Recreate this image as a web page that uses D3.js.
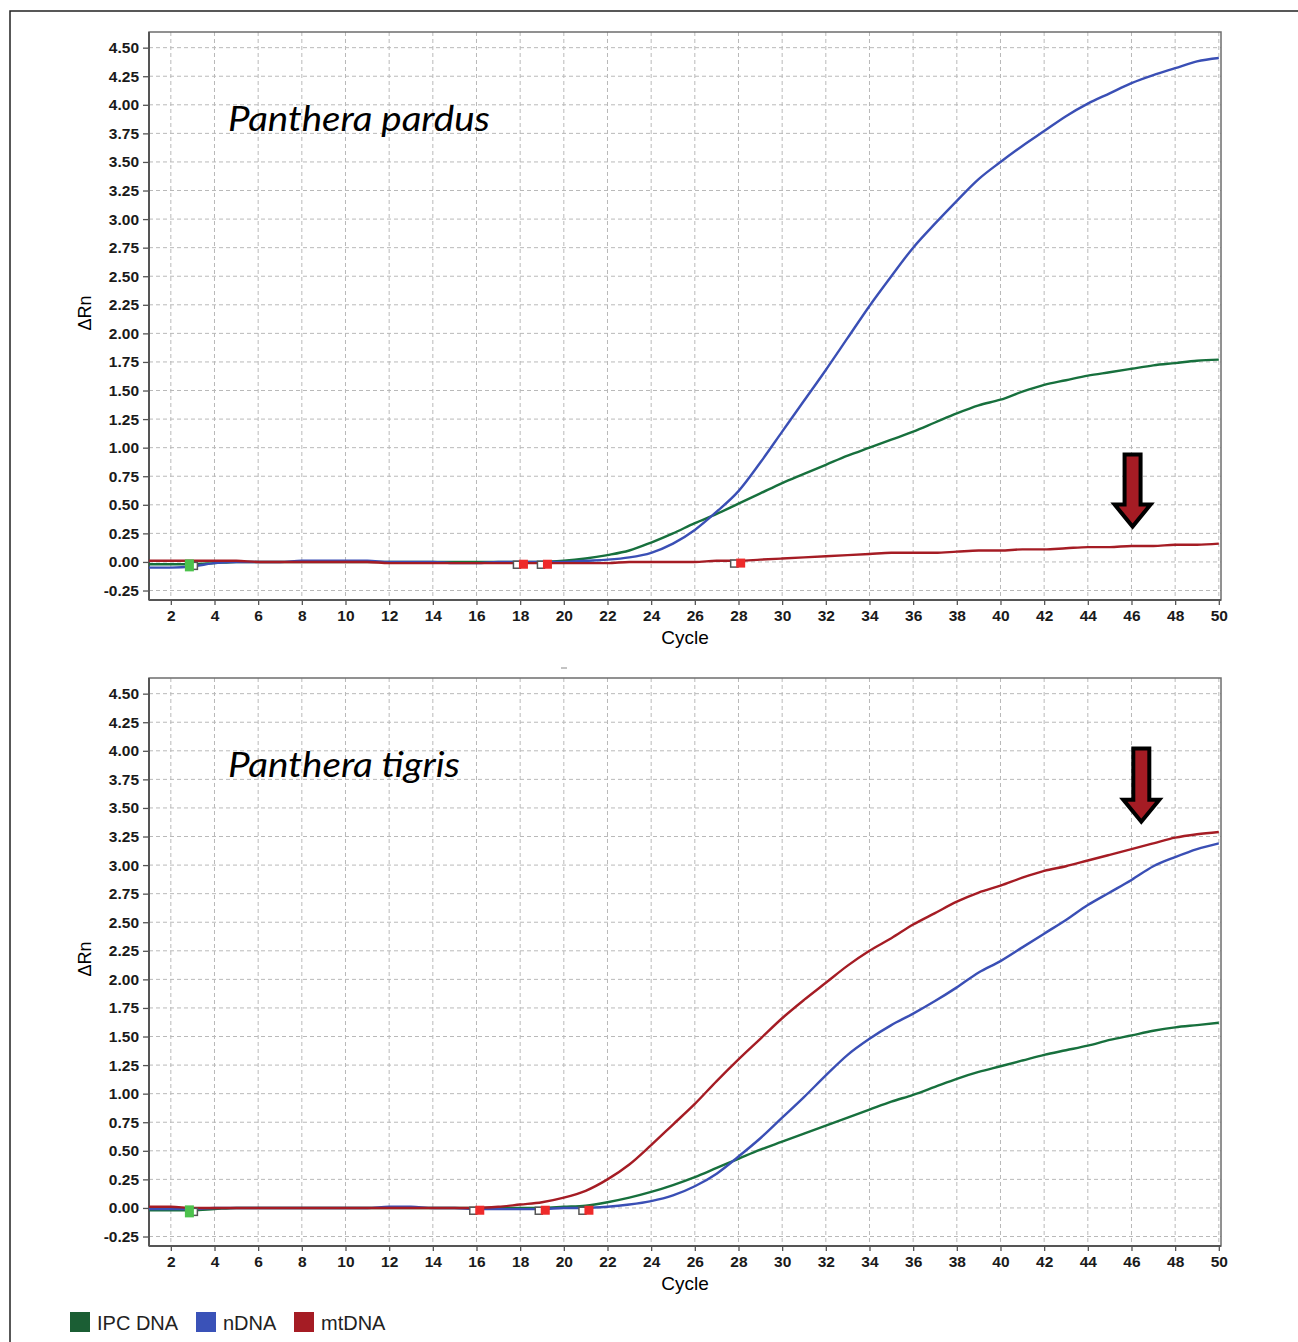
<!DOCTYPE html>
<html>
<head>
<meta charset="utf-8">
<script src="https://cdn.jsdelivr.net/npm/d3@7"></script>
<style>
  body { margin: 0; background: #fff; }
  svg { display: block; }
  .tick text { font-family: "Liberation Sans", Arial, sans-serif; font-size: 15.5px; font-weight: bold; fill: #1a1a1a; }
  .tick line { stroke: #555; stroke-width: 1.3; }
  .grid line { stroke: #b9b9b9; stroke-dasharray: 4,3; stroke-width: 1; }
</style>
</head>
<body>
<svg id="chart"></svg>
<script>
// cycles 1..50
var cycles = d3.range(1, 51);

// Panthera pardus
var pardusIPC = [-0.02,-0.02,-0.02,-0.01,0,0,0,0,0,0,
                 0,0,0,0,0,0,0,0,0,0.01,
                 0.03,0.06,0.10,0.17,0.25,0.34,0.42,0.51,0.60,0.69,
                 0.77,0.85,0.93,1.00,1.07,1.14,1.22,1.30,1.37,1.42,
                 1.49,1.55,1.59,1.63,1.66,1.69,1.72,1.74,1.76,1.77];
var pardusN   = [-0.05,-0.05,-0.04,-0.01,0,0,0,0.01,0.01,0.01,
                 0.01,0,0,0,-0.01,-0.01,0,0,0,0,
                 0.01,0.02,0.04,0.08,0.16,0.28,0.44,0.62,0.87,1.14,
                 1.41,1.68,1.96,2.24,2.50,2.75,2.96,3.16,3.35,3.50,
                 3.64,3.77,3.90,4.01,4.10,4.19,4.26,4.32,4.38,4.41];
var pardusMt  = [0.01,0.01,0.01,0.01,0.01,0,0,0,0,0,
                 0,-0.01,-0.01,-0.01,-0.01,-0.01,-0.01,-0.01,-0.01,-0.01,
                 -0.01,-0.01,0,0,0,0,0.01,0.01,0.02,0.03,
                 0.04,0.05,0.06,0.07,0.08,0.08,0.08,0.09,0.10,0.10,
                 0.11,0.11,0.12,0.13,0.13,0.14,0.14,0.15,0.15,0.16];

// Panthera tigris
var tigrisIPC = [-0.02,-0.02,-0.02,-0.01,0,0,0,0,0,0,
                 0,0,0,0,0,0,0,0,0,0.01,
                 0.02,0.05,0.09,0.14,0.20,0.27,0.35,0.43,0.51,0.58,
                 0.65,0.72,0.79,0.86,0.93,0.99,1.06,1.13,1.19,1.24,
                 1.29,1.34,1.38,1.42,1.47,1.51,1.55,1.58,1.60,1.62];
var tigrisN   = [-0.01,-0.01,-0.01,0,0,0,0,0,0,0,
                 0,0.01,0.01,0,0,-0.01,-0.01,-0.01,-0.01,0,
                 0,0.01,0.03,0.06,0.11,0.19,0.30,0.45,0.61,0.79,
                 0.97,1.16,1.34,1.48,1.60,1.70,1.81,1.93,2.06,2.16,
                 2.28,2.40,2.52,2.65,2.76,2.87,2.99,3.07,3.14,3.19];
var tigrisMt  = [0.01,0.01,0,0,0,0,0,0,0,0,
                 0,0,0,0,0,0,0.01,0.03,0.05,0.09,
                 0.15,0.25,0.38,0.55,0.73,0.91,1.11,1.30,1.48,1.66,
                 1.82,1.97,2.12,2.25,2.36,2.48,2.58,2.68,2.76,2.82,
                 2.89,2.95,2.99,3.04,3.09,3.14,3.19,3.24,3.27,3.29];

// threshold markers [cycle, value, kind]
var pardusMarks = [[2.85, -0.03, "ipc"], [18.15, -0.02, "mt"], [19.25, -0.02, "mt"], [28.1, -0.01, "mt"]];
var tigrisMarks = [[2.85, -0.03, "ipc"], [16.15, -0.02, "mt"], [19.15, -0.02, "mt"], [21.15, -0.02, "mt"]];

var yTicks = d3.range(-0.25, 4.51, 0.25);
var xTicks = d3.range(2, 51, 2);

var seriesNames = ["IPC DNA", "nDNA", "mtDNA"];
var colors = {"IPC DNA": "#17703d", "nDNA": "#3a4fb5", "mtDNA": "#a51c24"};
var legendColors = {"IPC DNA": "#1b5e34", "nDNA": "#3a52b8", "mtDNA": "#a51c24"};

var W = 1298, H = 1342;
var svg = d3.select("#chart").attr("width", W).attr("height", H);

// outer frame (left and top edges)
svg.append("path")
    .attr("d", "M10," + H + "L10,11L" + W + ",11")
    .attr("fill", "none").attr("stroke", "#222").attr("stroke-width", 1.5);

var fmt = d3.format(".2f");

function drawPanel(top, title, data, marks, arrow) {
    var left = 149, right = 1221, plotTop = top, plotBottom = top + 568;

    var x = d3.scaleLinear().domain([1, 50.1]).range([left, right]);
    var y = d3.scaleLinear().domain([-0.333, 4.637]).range([plotBottom, plotTop]);

    var g = svg.append("g");

    // grid
    var grid = g.append("g").attr("class", "grid");
    grid.selectAll("line.v").data(xTicks).enter().append("line")
        .attr("x1", function(d){ return x(d); }).attr("x2", function(d){ return x(d); })
        .attr("y1", plotTop).attr("y2", plotBottom);
    grid.selectAll("line.h").data(yTicks).enter().append("line")
        .attr("x1", left).attr("x2", right)
        .attr("y1", function(d){ return y(d); }).attr("y2", function(d){ return y(d); });

    // axes
    var yAxis = d3.axisLeft(y).tickValues(yTicks)
        .tickFormat(function(d){ return fmt(d).replace("\u2212", "-"); })
        .tickSize(6).tickPadding(4);
    g.append("g").attr("transform", "translate(" + left + ",0)").call(yAxis)
        .call(function(a){ a.select(".domain").remove(); });
    var xAxis = d3.axisBottom(x).tickValues(xTicks).tickSize(5).tickPadding(5);
    g.append("g").attr("transform", "translate(0," + plotBottom + ")").call(xAxis)
        .call(function(a){ a.select(".domain").remove(); });

    // plot border
    g.append("rect")
        .attr("x", left).attr("y", plotTop)
        .attr("width", right - left).attr("height", plotBottom - plotTop)
        .attr("fill", "none").attr("stroke", "#6e6e6e").attr("stroke-width", 1.5);
    g.append("line")
        .attr("x1", left).attr("x2", left).attr("y1", plotTop).attr("y2", plotBottom)
        .attr("stroke", "#555").attr("stroke-width", 2);
    g.append("line")
        .attr("x1", left).attr("x2", right).attr("y1", plotBottom).attr("y2", plotBottom)
        .attr("stroke", "#555").attr("stroke-width", 2);

    // axis titles
    g.append("text")
        .attr("x", (left + right) / 2).attr("y", plotBottom + 44)
        .attr("text-anchor", "middle")
        .style("font-family", "Liberation Sans, Arial, sans-serif").style("font-size", "19px")
        .text("Cycle");
    g.append("text")
        .attr("transform", "translate(91," + (plotTop + 281) + ") rotate(-90)")
        .attr("text-anchor", "middle")
        .style("font-family", "Liberation Sans, Arial, sans-serif").style("font-size", "18px")
        .text("\u0394Rn");

    // curves
    var line = d3.line().curve(d3.curveMonotoneX)
        .x(function(d){ return x(d[0]); })
        .y(function(d){ return y(d[1]); });

    seriesNames.forEach(function(name, i) {
        var pts = cycles.map(function(c, j){ return [c, data[i][j]]; });
        g.append("path").datum(pts)
            .attr("d", line)
            .attr("fill", "none")
            .attr("stroke", colors[name])
            .attr("stroke-width", 2.4);
    });

    // threshold markers
    marks.forEach(function(m) {
        var cx = x(m[0]), cy = y(m[1]);
        var isIpc = m[2] === "ipc";
        g.append("rect")
            .attr("x", cx + (isIpc ? 1 : -10)).attr("y", cy - 3)
            .attr("width", 7).attr("height", 7)
            .attr("fill", "#fff").attr("stroke", "#555").attr("stroke-width", 1.5);
        g.append("rect")
            .attr("x", cx - 4.5).attr("y", cy - (isIpc ? 6 : 4.5))
            .attr("width", 9).attr("height", isIpc ? 12 : 9)
            .attr("fill", isIpc ? "#4cc24c" : "#ee2a2a");
    });

    // title
    g.append("text")
        .attr("x", 228).attr("y", plotTop + 99)
        .style("font-family", "Lato, 'Open Sans', sans-serif")
        .style("font-style", "italic").style("font-size", "34px")
        .attr("textLength", title === "Panthera pardus" ? 262 : 232)
        .attr("lengthAdjust", "spacingAndGlyphs")
        .text(title);

    // arrow annotation
    var ax = x(arrow[0]), ay0 = y(arrow[1]), ay1 = y(arrow[2]);
    var headTop = ay1 - 22, sw = 8, hw = 18;
    g.append("path")
        .attr("d", "M" + (ax - sw) + "," + ay0 + "L" + (ax + sw) + "," + ay0 +
                   "L" + (ax + sw) + "," + headTop + "L" + (ax + hw) + "," + headTop +
                   "L" + ax + "," + ay1 + "L" + (ax - hw) + "," + headTop +
                   "L" + (ax - sw) + "," + headTop + "Z")
        .attr("fill", "#a51c24").attr("stroke", "#000").attr("stroke-width", 4)
        .attr("stroke-linejoin", "miter");
}

drawPanel(32, "Panthera pardus", [pardusIPC, pardusN, pardusMt], pardusMarks, [46.05, 0.94, 0.31]);
drawPanel(678, "Panthera tigris", [tigrisIPC, tigrisN, tigrisMt], tigrisMarks, [46.45, 4.02, 3.38]);

// small stray dash between panels
svg.append("line").attr("x1", 561).attr("x2", 567).attr("y1", 668).attr("y2", 668)
    .attr("stroke", "#888").attr("stroke-width", 1);

// legend
var legendX = [70, 196, 294];
var legend = svg.append("g");
seriesNames.forEach(function(name, i) {
    legend.append("rect")
        .attr("x", legendX[i]).attr("y", 1312)
        .attr("width", 20).attr("height", 20)
        .attr("fill", legendColors[name]);
    legend.append("text")
        .attr("x", legendX[i] + 27).attr("y", 1330)
        .style("font-family", "Liberation Sans, Arial, sans-serif").style("font-size", "20px")
        .attr("fill", "#222")
        .text(name);
});
</script>
</body>
</html>
